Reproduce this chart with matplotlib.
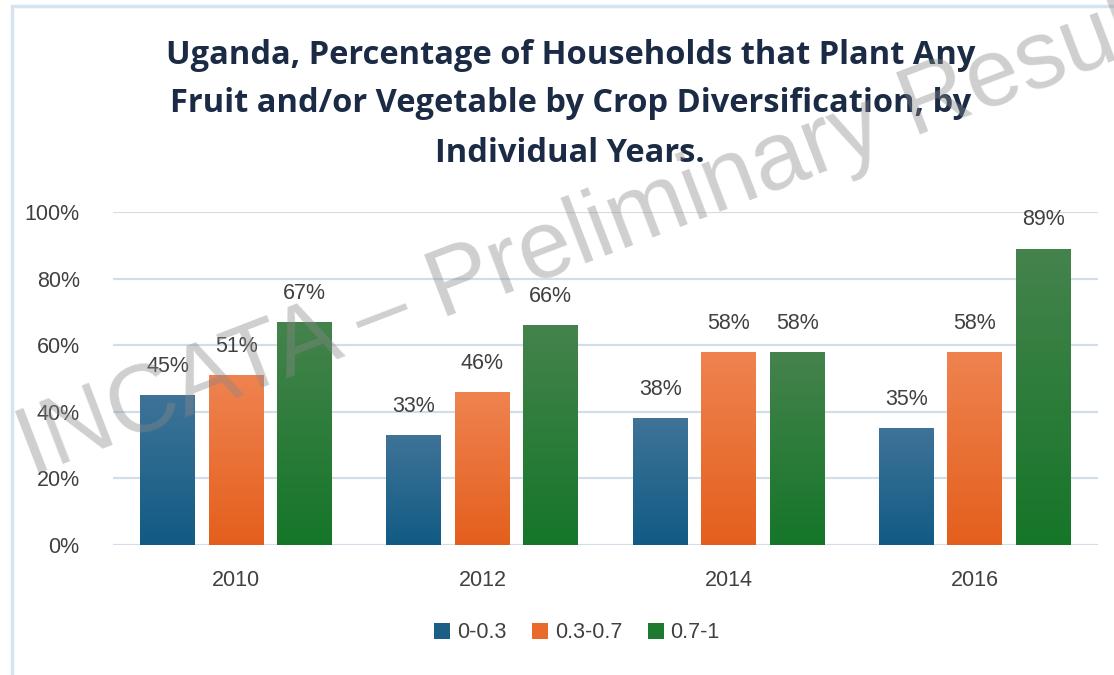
import numpy as np
import matplotlib
matplotlib.use('Agg')
import matplotlib.pyplot as plt
from matplotlib.patches import Rectangle
from matplotlib.colors import LinearSegmentedColormap

years = ['2010', '2012', '2014', '2016']
groups = ['0-0.3', '0.3-0.7', '0.7-1']
low = [45, 33, 38, 35]
mid = [51, 46, 58, 58]
high = [67, 66, 58, 89]

# (top colour, bottom colour) for the vertical gradient of each series
shades = [('#3f7398', '#115b84'),
          ('#ef8350', '#e45f1d'),
          ('#45834d', '#157628')]
solid = ['#1b5f87', '#ea6a2c', '#1e7a30']

fs = 15.5
txt_col = '#404040'

fig = plt.figure(figsize=(11.14, 6.75), dpi=100)
fig.patch.set_facecolor('white')

# light frame around the chart area
fig.patches.append(Rectangle((12 / 1114, -0.1), 1.2, 1.1 - 6 / 675,
                             transform=fig.transFigure, fill=False,
                             edgecolor='#d6e3f0', linewidth=2.5))

ax = fig.add_axes([113 / 1114, 1 - 545 / 675, 985 / 1114, 333 / 675])
x = np.arange(len(years))
width = 0.223
step = 0.278

for i, vals in enumerate([low, mid, high]):
    bars = ax.bar(x + (i - 1) * step, vals, width, color=solid[i],
                  label=groups[i], zorder=3)
    cmap = LinearSegmentedColormap.from_list('g%d' % i, [shades[i][1], shades[i][0]])
    for b, v in zip(bars, vals):
        x0, y0 = b.get_x(), b.get_y()
        grad = np.linspace(0, 1, 256).reshape(-1, 1)
        im = ax.imshow(grad, cmap=cmap, origin='lower', aspect='auto',
                       extent=[x0, x0 + b.get_width(), y0, y0 + b.get_height()],
                       zorder=4)
        im.set_clip_path(b)
        ax.text(x0 + b.get_width() / 2, v + 5.5, '%d%%' % v, ha='center',
                va='bottom', fontsize=fs, color=txt_col,
                family='Liberation Sans', zorder=6)

ax.set_xlim(-0.5, len(years) - 0.5)
ax.set_ylim(0, 100)
ax.set_yticks(np.arange(0, 101, 20))
ax.set_yticklabels(['%d%%' % t for t in range(0, 101, 20)])
ax.set_xticks(x)
ax.set_xticklabels(years)
ax.grid(axis='y', color='#d3dde8', linewidth=1.6, zorder=0)
for s in ax.spines.values():
    s.set_visible(False)
ax.tick_params(length=0, labelsize=fs, labelcolor=txt_col)
ax.tick_params(axis='y', pad=24)
ax.tick_params(axis='x', pad=18)
for lab in ax.get_xticklabels() + ax.get_yticklabels():
    lab.set_family('Liberation Sans')

fig.text(0.512, 1 - 104 / 675,
         'Uganda, Percentage of Households that Plant Any\n'
         'Fruit and/or Vegetable by Crop Diversification, by\n'
         'Individual Years.',
         ha='center', va='center', fontsize=23.5, fontweight='bold',
         family='Open Sans', color='#1c2b45', linespacing=1.64)

leg = fig.legend(loc='center', bbox_to_anchor=(0.518, 1 - 633 / 675), ncol=3,
                 frameon=False, handlelength=0.75, handleheight=0.75,
                 handletextpad=0.3, columnspacing=1.2,
                 prop={'family': 'Liberation Sans', 'size': fs})
for t in leg.get_texts():
    t.set_color(txt_col)

# watermark across the whole figure
fig.text(0.55, 0.665, 'INCATA \u2013 Preliminary Results', ha='center',
         va='center', rotation=21, fontsize=69, family='Liberation Sans',
         color='#888888', alpha=0.4, zorder=10)

fig.savefig('out.png', dpi=100)
